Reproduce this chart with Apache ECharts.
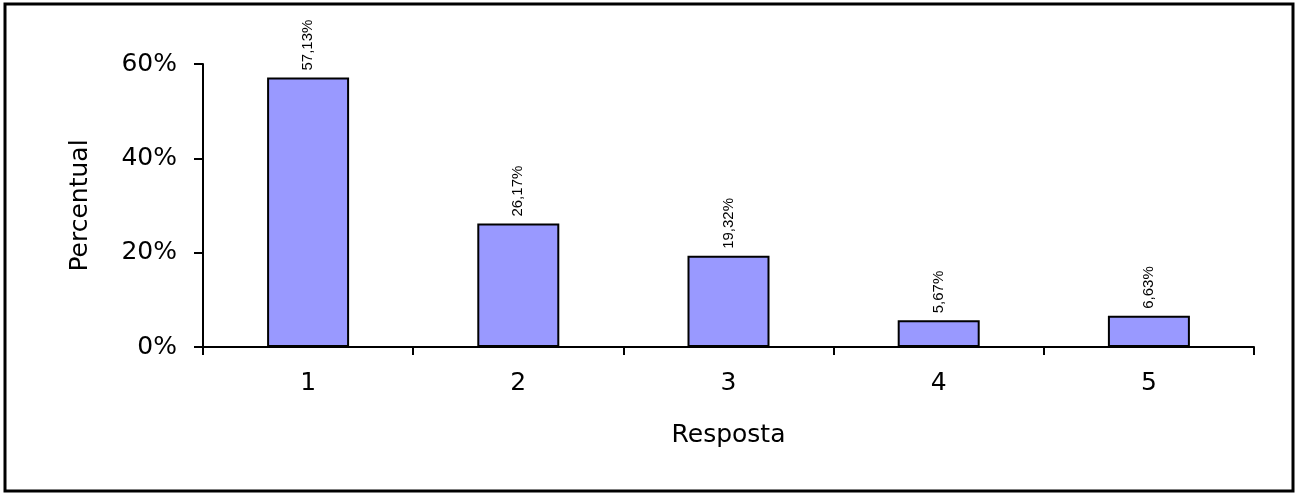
<!DOCTYPE html>
<html>
<head>
<meta charset="utf-8">
<script src="https://cdn.jsdelivr.net/npm/echarts@6/dist/echarts.min.js"></script>
<style>
  html, body { margin: 0; padding: 0; background: #fff; }
  #chart { width: 1304px; height: 495px; }
</style>
</head>
<body>
<div id="chart"></div>
<script>
// dados do gráfico
const categorias = ['1', '2', '3', '4', '5'];
const percentuais = [57.13, 26.17, 19.32, 5.67, 6.63];
const rotuloY = 'Percentual';
const rotuloX = 'Resposta';

const fonte = 'DejaVu Sans';
const myChart = echarts.init(document.getElementById('chart'));
const option = {
  backgroundColor: '#ffffff',
  animation: false,
  graphic: [{
    type: 'rect',
    shape: { x: 5, y: 4, width: 1288, height: 487 },
    style: { fill: 'none', stroke: '#000', lineWidth: 3 }
  }],
  grid: { left: 203, right: 50, top: 64, bottom: 148 },
  xAxis: {
    type: 'category',
    data: categorias,
    name: rotuloX,
    nameLocation: 'middle',
    nameGap: 76,
    nameTextStyle: { color: '#000', fontSize: 25, fontFamily: fonte },
    axisLine: { lineStyle: { color: '#000', width: 2 } },
    axisTick: { show: true, length: 8, lineStyle: { color: '#000', width: 2 } },
    axisLabel: { color: '#000', fontSize: 25, fontFamily: fonte, margin: 24 },
    splitLine: { show: false }
  },
  yAxis: {
    type: 'value',
    min: 0,
    max: 60,
    interval: 20,
    name: rotuloY,
    nameLocation: 'middle',
    nameGap: 110,
    nameRotate: 90,
    nameTextStyle: { color: '#000', fontSize: 25, fontFamily: fonte },
    axisLine: { show: true, lineStyle: { color: '#000', width: 2 } },
    axisTick: { show: true, length: 9, lineStyle: { color: '#000', width: 2 } },
    axisLabel: { color: '#000', fontSize: 25, fontFamily: fonte, margin: 26, formatter: '{value}%' },
    splitLine: { show: false }
  },
  series: [{
    type: 'bar',
    data: percentuais,
    barWidth: 82,
    itemStyle: { color: '#9999ff', borderColor: '#000', borderWidth: 2 },
    label: {
      show: true,
      position: 'top',
      rotate: 90,
      align: 'left',
      verticalAlign: 'middle',
      distance: 7,
      color: '#000',
      fontSize: 15,
      fontFamily: 'Liberation Sans',
      formatter: function (p) { return p.value.toFixed(2).replace('.', ',') + '%'; }
    }
  }]
};
myChart.setOption(option);
</script>
</body>
</html>
